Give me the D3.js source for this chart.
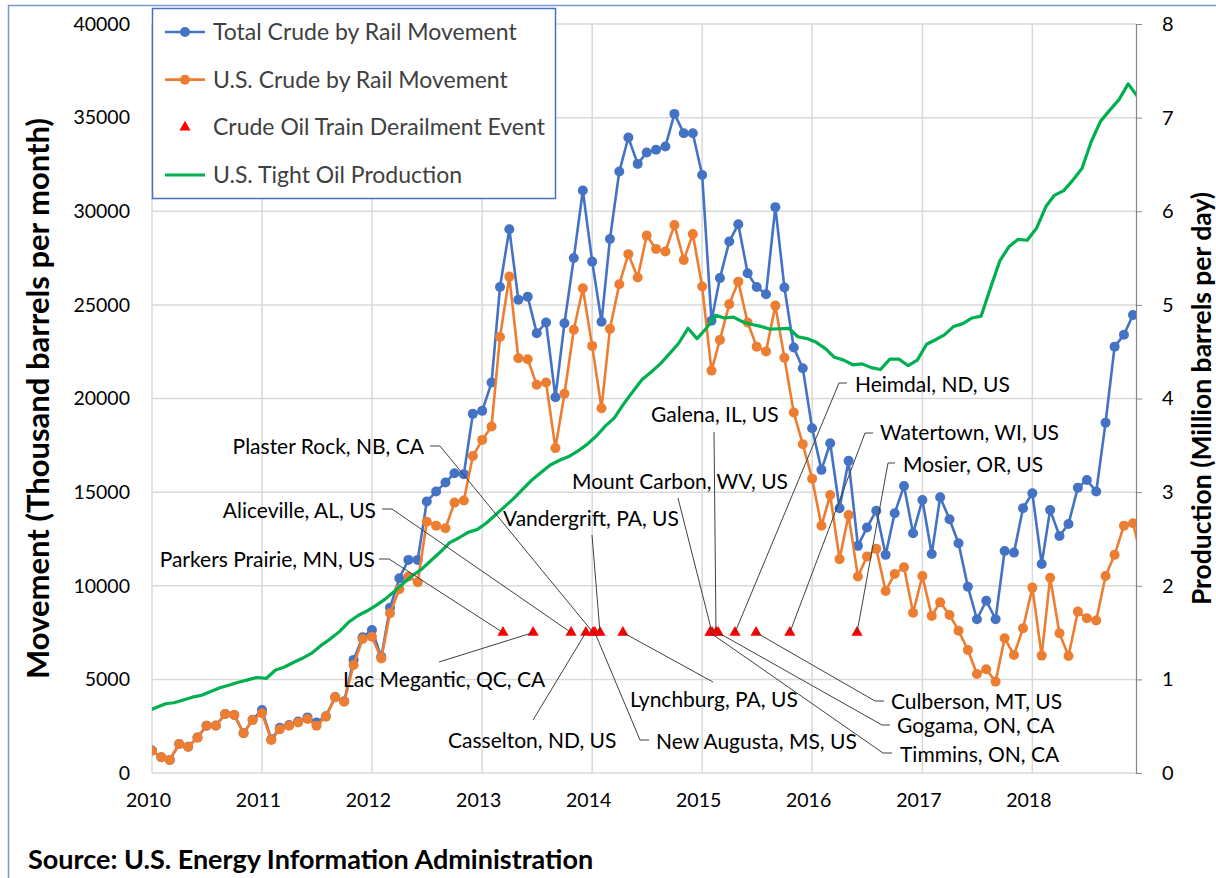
<!DOCTYPE html>
<html>
<head>
<meta charset="utf-8">
<script src="https://cdn.jsdelivr.net/npm/d3@7"></script>
<style>
  body { margin: 0; background: #fff; }
  svg { display: block; }
  text { font-family: Lato, "Open Sans", sans-serif; }
</style>
</head>
<body>
<svg id="chart" width="1216" height="878"></svg>
<script>
// DATA
// monthly crude by rail movement, thousand barrels per month, from Jan 2010
var railStart = "2010-01";
var totalRail = [
  1200, 840, 700, 1550, 1400, 1900, 2530, 2540, 3150, 3100, 2130, 2850,
  3360, 1800, 2420, 2560, 2750, 2970, 2700, 3030, 4060, 3830, 6040, 7250,
  7640, 6200, 8830, 10400, 11380, 11380, 14500, 15030, 15510, 16010, 15960, 19180,
  19340, 20850, 25950, 29040, 25270, 25440, 23490, 24060, 20070, 24020, 27500, 31110,
  27310, 24100, 28520, 32120, 33940, 32530, 33140, 33280, 33460, 35200, 34170, 34170,
  31940, 24150, 26430, 28380, 29310, 26690, 25950, 25570, 30220, 25930, 22720, 21620,
  18410, 16190, 17610, 14140, 16670, 12130, 13110, 14010, 11650, 13870, 15330, 12800,
  14580, 11700, 14730, 13550, 12270, 9950, 8210, 9200, 8210, 11860, 11770, 14140,
  14940, 11160, 14050, 12660, 13300, 15240, 15650, 15030, 18710, 22770, 23400, 24460
];
var usRail = [
  1190, 840, 700, 1550, 1400, 1890, 2530, 2530, 3150, 3100, 2120, 2830,
  3190, 1760, 2330, 2530, 2700, 2880, 2530, 3010, 4040, 3810, 5770, 7160,
  7280, 6120, 8530, 9810, 10490, 10190, 13420, 13210, 13070, 14440, 14550, 16930,
  17790, 18500, 23280, 26510, 22150, 22100, 20730, 20850, 17350, 20250, 23670, 25890,
  22810, 19480, 23720, 26100, 27710, 26460, 28700, 27990, 27850, 29270, 27400, 28780,
  25980, 21490, 23130, 25040, 26240, 24060, 22770, 22510, 24960, 22180, 19250, 17560,
  15720, 13200, 14850, 11420, 13780, 10490, 11560, 11970, 9720, 10630, 10990, 8560,
  10520, 8390, 9120, 8440, 7600, 6570, 5290, 5540, 4880, 7200, 6300, 7730,
  9900, 6270, 10430, 7460, 6250, 8620, 8260, 8140, 10520, 11650, 13210, 13340,
  11300
];

// monthly U.S. tight oil production, million barrels per day (mid-month), from Dec 2009
var tightStart = "2009-12";
var tightOil = [
  0.66,
  0.70, 0.74, 0.75, 0.78, 0.81, 0.83, 0.87, 0.91, 0.94, 0.97, 0.995, 1.02,
  1.01, 1.10, 1.13, 1.18, 1.225, 1.28, 1.36, 1.43, 1.51, 1.61, 1.68, 1.73,
  1.79, 1.86, 1.94, 2.03, 2.11, 2.18, 2.27, 2.36, 2.46, 2.51, 2.57, 2.60,
  2.67, 2.76, 2.84, 2.93, 3.03, 3.13, 3.21, 3.29, 3.34, 3.38, 3.44, 3.51,
  3.60, 3.71, 3.79, 3.94, 4.07, 4.20, 4.28, 4.37, 4.48, 4.59, 4.75, 4.64,
  4.75, 4.89, 4.86, 4.87, 4.82, 4.79, 4.77, 4.74, 4.745, 4.75, 4.66, 4.64,
  4.60, 4.53, 4.44, 4.41, 4.36, 4.37, 4.33, 4.31, 4.42, 4.42, 4.35, 4.41,
  4.58, 4.63, 4.68, 4.77, 4.80, 4.86, 4.88, 5.18, 5.47, 5.62, 5.70, 5.69,
  5.82, 6.05, 6.17, 6.22, 6.33, 6.46, 6.74, 6.96, 7.08, 7.19, 7.36, 7.23
];

// derailment events (placed where the chart shows them)
var eventNames = [
  "Parkers Prairie, MN, US", "Lac Megantic, QC, CA", "Aliceville, AL, US",
  "Casselton, ND, US", "Plaster Rock, NB, CA", "New Augusta, MS, US",
  "Vandergrift, PA, US", "Lynchburg, PA, US", "Timmins, ON, CA",
  "Mount Carbon, WV, US", "Galena, IL, US", "Gogama, ON, CA",
  "Heimdal, ND, US", "Culberson, MT, US", "Watertown, WI, US", "Mosier, OR, US"
];
var eventDates = [
  "2013-03-11", "2013-06-19", "2013-10-23",
  "2013-12-11", "2014-01-04", "2014-01-10",
  "2014-01-27", "2014-04-13", "2015-01-27",
  "2015-02-03", "2015-02-16", "2015-02-23",
  "2015-04-20", "2015-06-29", "2015-10-19", "2016-05-29"
];
var eventLevel = 7500;

var yearTicks = ["2010", "2011", "2012", "2013", "2014", "2015", "2016", "2017", "2018"];
var leftTicks = [0, 5000, 10000, 15000, 20000, 25000, 30000, 35000, 40000];
var rightTicks = [0, 1, 2, 3, 4, 5, 6, 7, 8];

var legendNames = ["Total Crude by Rail Movement", "U.S. Crude by Rail Movement",
                   "Crude Oil Train Derailment Event", "U.S. Tight Oil Production"];

// LAYOUT of the event labels: text spot, anchor, and elbow of the leader line
var labelLayout = {
  "Parkers Prairie, MN, US": { tx: 375, ty: 560, a: "end",   pts: [[379, 559], [389, 559]] },
  "Lac Megantic, QC, CA":    { tx: 343, ty: 680, a: "start", pts: [[439, 662]] },
  "Aliceville, AL, US":      { tx: 376, ty: 511, a: "end",   pts: [[382, 509], [392, 509]] },
  "Casselton, ND, US":       { tx: 448, ty: 741, a: "start", pts: [[533, 720]] },
  "Plaster Rock, NB, CA":    { tx: 424, ty: 447, a: "end",   pts: [[430, 446], [440, 446]] },
  "New Augusta, MS, US":     { tx: 656, ty: 742, a: "start", pts: [[649, 740], [640, 740]] },
  "Vandergrift, PA, US":     { tx: 503, ty: 519, a: "start", pts: [[592, 535]] },
  "Lynchburg, PA, US":       { tx: 630, ty: 700, a: "start", pts: [[713, 682]] },
  "Timmins, ON, CA":         { tx: 900, ty: 755, a: "start", pts: [[892, 753], [883, 753]] },
  "Mount Carbon, WV, US":    { tx: 572, ty: 482, a: "start", pts: [[678, 498]] },
  "Galena, IL, US":          { tx: 651, ty: 415, a: "start", pts: [[714, 432]] },
  "Gogama, ON, CA":          { tx: 897, ty: 726, a: "start", pts: [[890, 725], [882, 725]] },
  "Heimdal, ND, US":         { tx: 855, ty: 385, a: "start", pts: [[847, 383], [839, 383]] },
  "Culberson, MT, US":       { tx: 891, ty: 702, a: "start", pts: [[884, 701], [875, 701]] },
  "Watertown, WI, US":       { tx: 880, ty: 433, a: "start", pts: [[873, 433], [865, 433]] },
  "Mosier, OR, US":          { tx: 903, ty: 465, a: "start", pts: [[895, 463], [888, 463]] }
};

var blue = "#4472C4", orange = "#ED7D31", green = "#00B050", red = "#FF0000";
var plotL = 152, plotR = 1136, plotT = 24, plotB = 773;

var parseMonth = d3.timeParse("%Y-%m"),
    parseDay = d3.timeParse("%Y-%m-%d"),
    parseYear = d3.timeParse("%Y");

var x = d3.scaleTime()
    .domain([parseDay("2010-01-01"), parseDay("2018-12-11")])
    .range([plotL, plotR]);
var yL = d3.scaleLinear().domain([0, 40000]).range([plotB, plotT]);
var yR = d3.scaleLinear().domain([0, 8]).range([plotB, plotT]);

function monthly(start, values) {
    return values.map(function(v, i) {
        return { date: d3.timeMonth.offset(parseMonth(start), i), v: v };
    });
}
var totalData = monthly(railStart, totalRail);
var usData = monthly(railStart, usRail);
var tightData = tightOil.map(function(v, i) {
    return { date: d3.timeDay.offset(d3.timeMonth.offset(parseMonth(tightStart), i), 14), v: v };
});
var events = eventNames.map(function(n, i) {
    return { name: n, date: parseDay(eventDates[i]), v: eventLevel };
});

var svg = d3.select("#chart");

// outer chart frame (only left and top edges show)
svg.append("path")
    .attr("d", "M8.5,878 L8.5,5.5 L1216,5.5")
    .attr("fill", "none").attr("stroke", "#7a98cf").attr("stroke-width", 1.5);

svg.append("defs").append("clipPath").attr("id", "plotClip")
  .append("rect").attr("x", plotL).attr("y", plotT - 10)
    .attr("width", plotR - plotL).attr("height", plotB - plotT + 20);

// gridlines
var grid = svg.append("g");
grid.selectAll(".hg").data(leftTicks).enter().append("line")
    .attr("x1", plotL).attr("x2", plotR)
    .attr("y1", function(d) { return yL(d); }).attr("y2", function(d) { return yL(d); })
    .attr("stroke", "#d9d9d9").attr("stroke-width", 1.5);
grid.selectAll(".vg").data(yearTicks).enter().append("line")
    .attr("x1", function(d) { return x(parseYear(d)); })
    .attr("x2", function(d) { return x(parseYear(d)); })
    .attr("y1", plotT).attr("y2", plotB)
    .attr("stroke", "#d9d9d9").attr("stroke-width", 1.5);

// axes
var leftAxis = svg.append("g").attr("transform", "translate(" + plotL + ",0)")
    .call(d3.axisLeft(yL).tickValues(leftTicks).tickFormat(d3.format("d"))
        .tickSize(0).tickPadding(22));
leftAxis.select(".domain").remove();
leftAxis.selectAll("text").style("font-size", "19.5px").attr("fill", "#000");

var rightAxis = svg.append("g").attr("transform", "translate(" + plotR + ",0)")
    .call(d3.axisRight(yR).tickValues(rightTicks).tickSize(6).tickPadding(20));
rightAxis.select(".domain").attr("stroke", "#868686").attr("stroke-width", 1.2);
rightAxis.selectAll("line").attr("stroke", "#868686");
rightAxis.selectAll("text").style("font-size", "20px").attr("fill", "#000");

var bottomAxis = svg.append("g").attr("transform", "translate(0," + plotB + ")")
    .call(d3.axisBottom(x).tickValues(yearTicks.map(parseYear))
        .tickFormat(d3.timeFormat("%Y")).tickSize(0).tickPadding(20));
bottomAxis.select(".domain").remove();
bottomAxis.selectAll("text").style("font-size", "19.5px").attr("fill", "#000")
    .attr("dx", "-4");

// axis titles
svg.append("text")
    .attr("transform", "translate(38," + ((plotT + plotB) / 2) + ") rotate(-90)")
    .attr("text-anchor", "middle").attr("dy", "0.35em")
    .style("font-size", "31px").style("font-weight", "bold")
    .text("Movement (Thousand barrels per month)");
svg.append("text")
    .attr("transform", "translate(1202," + ((plotT + plotB) / 2) + ") rotate(-90)")
    .attr("text-anchor", "middle").attr("dy", "0.35em")
    .style("font-size", "26.5px").style("font-weight", "bold")
    .text("Production (Million barrels per day)");

// data lines
var plot = svg.append("g").attr("clip-path", "url(#plotClip)");
var lineL = d3.line().x(function(d) { return x(d.date); }).y(function(d) { return yL(d.v); });
var lineR = d3.line().x(function(d) { return x(d.date); }).y(function(d) { return yR(d.v); });

function drawRail(data, color) {
    plot.append("path").datum(data)
        .attr("d", lineL).attr("fill", "none")
        .attr("stroke", color).attr("stroke-width", 2.6).attr("stroke-linejoin", "round");
    plot.selectAll(null).data(data).enter().append("circle")
        .attr("cx", function(d) { return x(d.date); })
        .attr("cy", function(d) { return yL(d.v); })
        .attr("r", 5).attr("fill", color);
}
drawRail(totalData, blue);
drawRail(usData, orange);

var tri = d3.symbol().type(d3.symbolTriangle).size(55);
plot.selectAll(".evt").data(events).enter().append("path")
    .attr("d", tri)
    .attr("transform", function(d) { return "translate(" + x(d.date) + "," + yL(d.v) + ")"; })
    .attr("fill", red);

plot.append("path").datum(tightData)
    .attr("d", lineR).attr("fill", "none")
    .attr("stroke", green).attr("stroke-width", 3.2).attr("stroke-linejoin", "round");

// event labels and leader lines
var ann = svg.append("g");
events.forEach(function(d) {
    var L = labelLayout[d.name];
    var pts = L.pts.concat([[x(d.date), yL(d.v)]]);
    ann.append("path")
        .attr("d", d3.line()(pts))
        .attr("fill", "none").attr("stroke", "#404040").attr("stroke-width", 1);
    ann.append("text")
        .attr("x", L.tx).attr("y", L.ty).attr("dy", "0.35em")
        .attr("text-anchor", L.a)
        .style("font-size", "21px").attr("fill", "#000")
        .text(d.name);
});

// legend
var lg = svg.append("g");
lg.append("rect").attr("x", 152.5).attr("y", 8.5).attr("width", 403).attr("height", 190)
    .attr("fill", "#fff").attr("stroke", blue).attr("stroke-width", 1.5);
var legendY = d3.scalePoint().domain(legendNames).range([32, 175]);
legendNames.forEach(function(n, i) {
    var yy = legendY(n);
    if (i === 0 || i === 1) {
        var c = i === 0 ? blue : orange;
        lg.append("line").attr("x1", 165).attr("x2", 205).attr("y1", yy).attr("y2", yy)
            .attr("stroke", c).attr("stroke-width", 2.6);
        lg.append("circle").attr("cx", 185).attr("cy", yy).attr("r", 5).attr("fill", c);
    } else if (i === 2) {
        lg.append("path").attr("d", tri)
            .attr("transform", "translate(185," + yy + ")").attr("fill", red);
    } else {
        lg.append("line").attr("x1", 165).attr("x2", 205).attr("y1", yy).attr("y2", yy)
            .attr("stroke", green).attr("stroke-width", 3.2);
    }
    lg.append("text").attr("x", 213).attr("y", yy).attr("dy", "0.35em")
        .style("font-size", "23px").attr("fill", "#404040").text(n);
});

// source note
svg.append("text").attr("x", 28).attr("y", 860).attr("dy", "0.35em")
    .style("font-size", "27px").style("font-weight", "bold")
    .text("Source: U.S. Energy Information Administration");
</script>
</body>
</html>
